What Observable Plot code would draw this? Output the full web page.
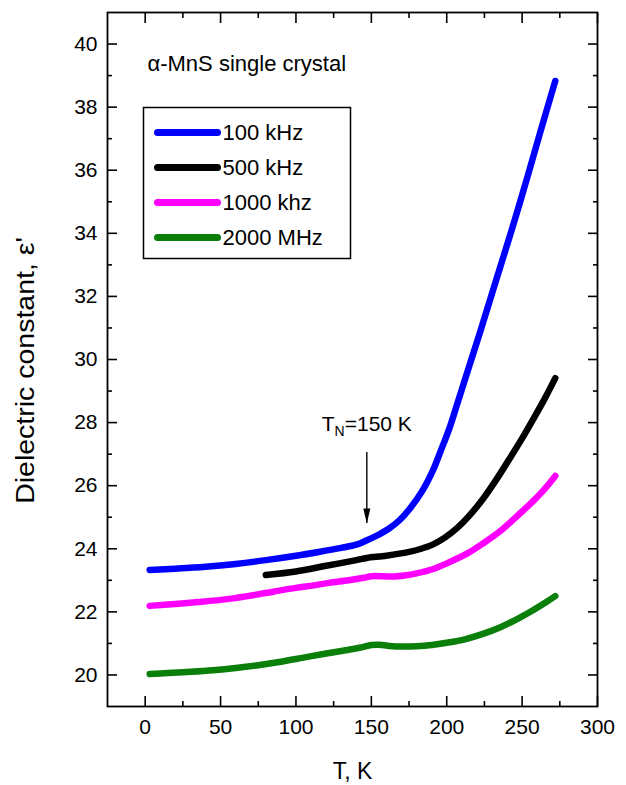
<!DOCTYPE html>
<html>
<head>
<meta charset="utf-8">
<script src="https://cdn.jsdelivr.net/npm/d3@7"></script>
<script src="https://cdn.jsdelivr.net/npm/@observablehq/plot@0.6"></script>
<style>
  body { margin: 0; background: #fff; }
  #chart svg { display: block; }
</style>
</head>
<body>
<div id="chart"></div>
<script>
// ---------- data ----------
const seriesNames  = ["100 kHz", "500 kHz", "1000 khz", "2000 MHz"];
const seriesColors = ["#0000ff", "#000000", "#ff00ff", "#0a7f0a"];

const temps100 = [3, 20, 40, 60, 80, 100, 115, 130, 140, 147, 155, 162, 169, 176, 184, 191, 196, 202, 207, 211, 216, 222, 233, 244, 253, 262, 272];
const eps100   = [23.33, 23.37, 23.43, 23.52, 23.64, 23.78, 23.9, 24.03, 24.13, 24.27, 24.45, 24.65, 24.92, 25.3, 25.85, 26.5, 27.1, 27.85, 28.6, 29.2, 29.95, 30.85, 32.55, 34.25, 35.7, 37.2, 38.83];

const temps500 = [80, 100, 120, 140, 147, 160, 175, 183, 191, 199, 207, 215, 224, 233, 242, 250, 257.5, 265, 272];
const eps500   = [23.17, 23.28, 23.46, 23.64, 23.71, 23.78, 23.9, 24.0, 24.14, 24.36, 24.66, 25.05, 25.58, 26.2, 26.88, 27.5, 28.12, 28.76, 29.41];

const temps1000 = [3, 20, 35, 50, 68, 85, 100, 112, 122, 135, 145, 150, 158, 165, 172, 180, 191, 202, 214, 225, 236, 247, 257.5, 265, 272];
const eps1000   = [22.19, 22.25, 22.31, 22.38, 22.5, 22.64, 22.76, 22.84, 22.92, 23.0, 23.08, 23.13, 23.13, 23.12, 23.15, 23.22, 23.36, 23.58, 23.86, 24.2, 24.58, 25.05, 25.52, 25.9, 26.31];

const temps2000 = [3, 15, 30, 45, 60, 75, 90, 105, 120, 135, 143, 150, 155, 162, 170, 180, 190, 200, 212, 224, 236, 247, 257.5, 265, 272];
const eps2000   = [20.03, 20.06, 20.1, 20.15, 20.22, 20.31, 20.42, 20.55, 20.68, 20.8, 20.87, 20.95, 20.96, 20.92, 20.9, 20.91, 20.95, 21.02, 21.13, 21.3, 21.52, 21.78, 22.06, 22.28, 22.5];

const xMajorTicks = [0, 50, 100, 150, 200, 250, 300];
const xMinorTicks = [25, 75, 125, 175, 225, 275];
const yMajorTicks = [20, 22, 24, 26, 28, 30, 32, 34, 36, 38, 40];
const yMinorTicks = [21, 23, 25, 27, 29, 31, 33, 35, 37, 39];

const xLabel = "T, K";
const yLabel = "Dielectric constant, ε'";
const sampleLabel = "α-MnS single crystal";
const neel = {T: 147, label: "TN=150 K", yText: 27.95, yFrom: 27.05, yTo: 24.8};

// ---------- table ----------
const allTemps = [temps100, temps500, temps1000, temps2000];
const allEps = [eps100, eps500, eps1000, eps2000];
const table = [];
allTemps.forEach((ts, i) => ts.forEach((t, j) => table.push({series: seriesNames[i], T: t, eps: allEps[i][j]})));

const lineShape = {draw(context, l) { context.moveTo(0, 0); context.lineTo(0, -l); }};
const headShape = {draw(context, l) { context.moveTo(0, 0); context.lineTo(-3.5, -l); context.lineTo(3.5, -l); context.closePath(); }};

const mTop = 12, mLeft = 107;
const legendRows = [132, 167, 202, 237];

const tickW = 1.6;

const chart = Plot.plot({
  width: 626,
  height: 785,
  marginLeft: mLeft,
  marginRight: 29,
  marginTop: mTop,
  marginBottom: 79,
  style: {fontFamily: "'Liberation Sans', Arial, sans-serif", fontSize: "21px", background: "white", color: "black"},
  x: {domain: [-25, 300]},
  y: {domain: [19, 41]},
  color: {domain: seriesNames, range: seriesColors},
  marks: [
    // axes ticks (inward)
    Plot.axisX(xMajorTicks, {anchor: "bottom", tickSize: -10, text: null, label: null, strokeWidth: tickW}),
    Plot.axisX(xMinorTicks, {anchor: "bottom", tickSize: -5, text: null, label: null, strokeWidth: tickW}),
    Plot.axisX(xMajorTicks, {anchor: "top", tickSize: -10, text: null, label: null, strokeWidth: tickW}),
    Plot.axisX(xMinorTicks, {anchor: "top", tickSize: -5, text: null, label: null, strokeWidth: tickW}),
    Plot.axisX(xMajorTicks, {anchor: "bottom", tickSize: 0, tickPadding: 13, label: null, fontSize: 21}),
    Plot.axisY(yMajorTicks, {anchor: "left", tickSize: -10, text: null, label: null, strokeWidth: tickW}),
    Plot.axisY(yMinorTicks, {anchor: "left", tickSize: -5, text: null, label: null, strokeWidth: tickW}),
    Plot.axisY(yMajorTicks, {anchor: "right", tickSize: -10, text: null, label: null, strokeWidth: tickW}),
    Plot.axisY(yMinorTicks, {anchor: "right", tickSize: -5, text: null, label: null, strokeWidth: tickW}),
    Plot.axisY(yMajorTicks, {anchor: "left", tickSize: 0, tickPadding: 10, label: null, fontSize: 21}),
    Plot.frame({stroke: "black", strokeWidth: 1.8}),
    // axis titles
    Plot.text([xLabel], {frameAnchor: "bottom", dy: 65, lineAnchor: "middle", fontSize: 23, fill: "black"}),
    Plot.text([yLabel], {frameAnchor: "left", rotate: -90, dx: -82, dy: 11, textAnchor: "middle", lineAnchor: "middle", fontSize: 25, fill: "black", className: "ylab"}),
    // data curves
    Plot.line(table, {x: "T", y: "eps", z: "series", stroke: "series", strokeWidth: 6.5, curve: "catmull-rom", strokeLinecap: "round", strokeLinejoin: "round"}),
    // sample label
    Plot.text([sampleLabel], {frameAnchor: "top-left", dx: 40, dy: 51, textAnchor: "start", lineAnchor: "middle", fontSize: 22, fill: "black"}),
    // legend box
    Plot.frame({stroke: "black", strokeWidth: 1.5, insetLeft: 36, insetTop: 95, insetRight: 247, insetBottom: 448}),
    ...seriesNames.map((name, i) => Plot.vector([name], {frameAnchor: "top-left", dx: 50, dy: legendRows[i] - mTop, rotate: 90, length: 60, anchor: "start", shape: lineShape, stroke: seriesColors[i], strokeWidth: 7, strokeLinecap: "round"})),
    ...seriesNames.map((name, i) => Plot.text([name], {frameAnchor: "top-left", dx: 115, dy: legendRows[i] - mTop, textAnchor: "start", lineAnchor: "middle", fontSize: 22, fill: "black"})),
    // Néel temperature annotation
    Plot.ruleX([neel], {x: "T", y1: "yFrom", y2: "yTo", stroke: "black", strokeWidth: 1.4}),
    Plot.vector([neel], {x: "T", y: "yTo", length: 15, anchor: "start", shape: headShape, fill: "black", stroke: "none"}),
    Plot.text([neel], {x: "T", y: "yText", text: "label", fontSize: 21, fill: "black", className: "tn-label"})
  ]
});

document.getElementById("chart").appendChild(chart);

// subscript N in the annotation
d3.select(chart).selectAll(".tn-label text").each(function() {
  const t = d3.select(this);
  t.text(null);
  t.append("tspan").text("T");
  t.append("tspan").attr("font-size", "14px").attr("dy", "0.35em").text("N");
  t.append("tspan").attr("dy", "-0.25em").text("=150 K");
});

// the original's rotated axis title is drawn slightly elongated
d3.select(chart).selectAll(".ylab text").each(function() {
  const t = d3.select(this);
  const tr = t.attr("transform") || "";
  t.attr("transform", tr + " scale(1.14,1)");
});
</script>
</body>
</html>
